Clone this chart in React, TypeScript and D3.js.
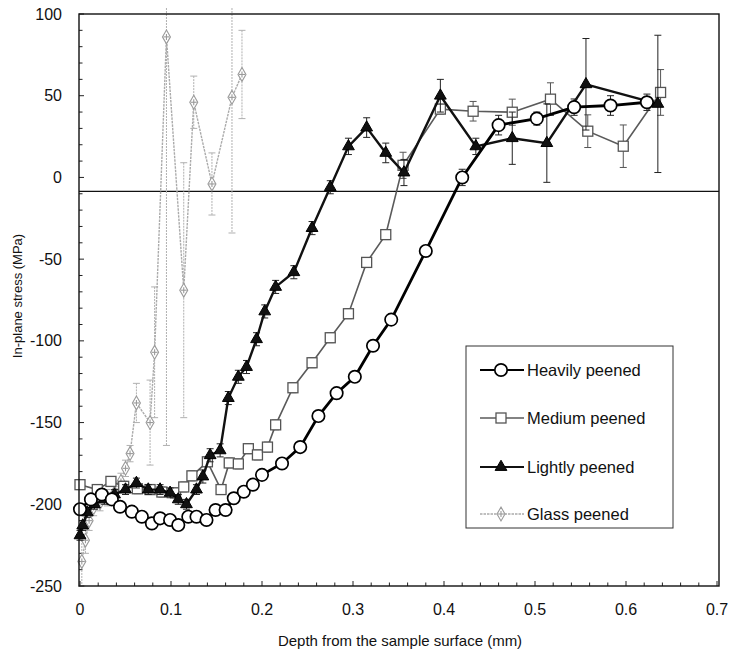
import React from 'react';
import * as d3 from 'd3';

// ---------- data ----------
const heavilyDepth = [0, 0.012, 0.024, 0.035, 0.044, 0.057, 0.068, 0.079, 0.088, 0.099, 0.108, 0.119, 0.128, 0.139, 0.149, 0.160, 0.169, 0.180, 0.190, 0.200, 0.222, 0.242, 0.262, 0.282, 0.302, 0.322, 0.342, 0.380, 0.420, 0.460, 0.502, 0.543, 0.583, 0.623];
const heavilyStress = [-203, -197, -194, -197, -201.5, -204.5, -207.6, -211.7, -208.6, -209.6, -212.7, -207.6, -207.6, -209.6, -203.5, -203.5, -196.3, -192.3, -188, -182, -175, -165, -146, -132, -122, -103, -87, -45, 0, 32, 36, 43, 44, 46];
const heavilyErr = [2, 2, 2, 2, 2, 2, 2, 2, 2, 2, 2, 2, 2, 2, 2, 2, 2, 2, 2, 2, 2, 2, 2, 2, 2, 2, 3, 3, 5, 6, 4, 5, 6, 5];

const mediumDepth = [0, 0.019, 0.034, 0.048, 0.063, 0.077, 0.090, 0.105, 0.114, 0.123, 0.140, 0.155, 0.164, 0.174, 0.185, 0.195, 0.206, 0.215, 0.234, 0.255, 0.275, 0.295, 0.315, 0.336, 0.355, 0.396, 0.432, 0.475, 0.517, 0.558, 0.597, 0.638];
const mediumStress = [-188, -191, -186, -189, -190.5, -191, -192.5, -193, -189.4, -182.6, -174, -191, -174.7, -175.3, -166, -169.8, -165, -151.4, -128.7, -113.4, -98.1, -83.4, -52, -35, 7.4, 41.8, 40.5, 39.9, 47.9, 28.3, 19.1, 52];
const mediumErr = [3, 3, 3, 3, 3, 3, 3, 3, 3, 3, 3, 3, 3, 3, 3, 3, 3, 3, 3, 3, 3, 3, 3, 3, 8, 3, 6, 8, 10, 10, 13, 14];

const lightlyDepth = [0, 0.003, 0.008, 0.016, 0.027, 0.038, 0.050, 0.062, 0.075, 0.088, 0.099, 0.108, 0.117, 0.128, 0.135, 0.143, 0.154, 0.163, 0.174, 0.183, 0.194, 0.203, 0.215, 0.235, 0.255, 0.275, 0.295, 0.315, 0.336, 0.356, 0.396, 0.435, 0.475, 0.513, 0.556, 0.635];
const lightlyStress = [-219, -213, -205, -200, -197, -194, -191, -187, -191, -191, -193, -197, -200, -191, -183, -170, -167, -135, -122, -116, -99, -82, -67, -58, -31, -6, 19, 30.5, 15, 3, 50, 19, 24, 21, 57, 45];
const lightlyErr = [3, 3, 3, 3, 3, 3, 3, 3, 3, 3, 3, 3, 3, 3, 4, 4, 4, 4, 4, 4, 4, 4, 4, 4, 4, 4, 5, 6, 6, 8, 10, 5, 16, 24, 28, 42];

const glassDepth = [0.002, 0.006, 0.010, 0.015, 0.022, 0.030, 0.038, 0.045, 0.050, 0.055, 0.062, 0.077, 0.082, 0.095, 0.114, 0.125, 0.145, 0.167, 0.178];
const glassStress = [-235, -222, -210, -202, -199, -196, -193, -186, -178, -169, -138, -150, -107, 86, -69, 46, -4, 49, 63];
const glassErr = [15, 8, 6, 5, 5, 5, 5, 5, 5, 5, 12, 26, 40, 250, 78, 16, 19, 83, 27];

const xTicks = [0, 0.1, 0.2, 0.3, 0.4, 0.5, 0.6, 0.7];
const yTicks = [100, 50, 0, -50, -100, -150, -200, -250];
const referenceLine = -8.5;

const seriesNames = ['Heavily peened', 'Medium peened', 'Lightly peened', 'Glass peened'];

// ---------- layout ----------
const W = 736;
const H = 655;
const left = 79;
const right = 719;
const top = 14;
const bottom = 586;
const FONT = '"Liberation Sans", Arial, Helvetica, sans-serif';

const x = d3.scaleLinear().domain([0, 0.7]).range([80, 717]);
const y = d3.scaleLinear().domain([-250, 100]).range([bottom, top]);

type Pt = { d: number; s: number; e: number };
const zip = (d: number[], s: number[], e: number[]): Pt[] => d.map((v, i) => ({ d: v, s: s[i], e: e[i] }));

const heavily = zip(heavilyDepth, heavilyStress, heavilyErr);
const medium = zip(mediumDepth, mediumStress, mediumErr);
const lightly = zip(lightlyDepth, lightlyStress, lightlyErr);
const glass = zip(glassDepth, glassStress, glassErr);

const lineGen = d3.line<Pt>().x(p => x(p.d)).y(p => y(p.s));

const triPath = d3.symbol().type(d3.symbolTriangle).size(60)() as string;
const diaPath = d3.symbol().type(d3.symbolDiamond).size(55)() as string;

function ErrorBars({ data, color, width, dash }: { data: Pt[]; color: string; width: number; dash?: string }) {
  const cap = 3.5;
  return (
    <g stroke={color} strokeWidth={width} fill="none">
      {data.map((p, i) => {
        const cx = x(p.d);
        const yt = y(p.s + p.e);
        const yb = y(p.s - p.e);
        const ytc = Math.max(yt, 8);
        const ybc = Math.min(yb, bottom);
        return (
          <g key={i}>
            <line x1={cx} x2={cx} y1={ytc} y2={ybc} strokeDasharray={dash} />
            {yt >= 8 && <line x1={cx - cap} x2={cx + cap} y1={yt} y2={yt} />}
            {yb <= bottom && <line x1={cx - cap} x2={cx + cap} y1={yb} y2={yb} />}
          </g>
        );
      })}
    </g>
  );
}

function CircleMark({ cx, cy }: { cx: number; cy: number }) {
  return <circle cx={cx} cy={cy} r={6.2} fill="#fff" stroke="#000" strokeWidth={1.7} />;
}
function SquareMark({ cx, cy }: { cx: number; cy: number }) {
  return <rect x={cx - 5} y={cy - 5} width={10} height={10} fill="#fff" stroke="#555" strokeWidth={1.3} />;
}
function TriMark({ cx, cy }: { cx: number; cy: number }) {
  return <path d={triPath} transform={`translate(${cx},${cy})`} fill="#111" stroke="#000" strokeWidth={1} />;
}
function DiaMark({ cx, cy }: { cx: number; cy: number }) {
  return (
    <g transform={`translate(${cx},${cy})`} stroke="#9a9a9a" strokeWidth={1.1} fill="#fff">
      <path d={diaPath} />
      <line x1={-3} x2={3} y1={0} y2={0} />
      <line x1={0} x2={0} y1={-3} y2={3} />
    </g>
  );
}

export default function App() {
  const yMinor = d3.range(-250, 101, 10);
  const xMinor = d3.range(0, 0.7001, 0.02);

  const legendX = 466;
  const legendY = 346;
  const legendEntries = [370, 418, 467, 514];

  return (
    <div style={{ position: 'absolute', left: 0, top: 0, width: W, height: H, background: '#fff' }}>
      <svg width={W} height={H} style={{ display: 'block', fontFamily: FONT }}>
        <rect x={0} y={0} width={W} height={H} fill="#fff" />

        {/* ticks */}
        <g stroke="#222" strokeWidth={1}>
          {yMinor.map(v => {
            const major = Math.abs(v % 50) < 1e-6;
            return <line key={'y' + v} x1={left} x2={left + (major ? 5 : 3.5)} y1={y(v)} y2={y(v)} />;
          })}
          {xMinor.map((v, i) => {
            const major = i % 5 === 0;
            return <line key={'x' + i} x1={x(v)} x2={x(v)} y1={bottom} y2={bottom - (major ? 5 : 3.5)} />;
          })}
        </g>

        {/* reference line */}
        <line x1={left} x2={right} y1={y(referenceLine)} y2={y(referenceLine)} stroke="#111" strokeWidth={1.3} />

        {/* glass peened */}
        <ErrorBars data={glass} color="#b0b0b0" width={1} dash="2,1" />
        <path d={lineGen(glass) as string} fill="none" stroke="#ababab" strokeWidth={1.4} strokeDasharray="2.5,1" />
        {glass.map((p, i) => <DiaMark key={i} cx={x(p.d)} cy={y(p.s)} />)}

        {/* medium peened */}
        <ErrorBars data={medium} color="#555" width={1} />
        <path d={lineGen(medium) as string} fill="none" stroke="#5a5a5a" strokeWidth={1.6} />
        {medium.map((p, i) => <SquareMark key={i} cx={x(p.d)} cy={y(p.s)} />)}

        {/* lightly peened */}
        <ErrorBars data={lightly} color="#222" width={1} />
        <path d={lineGen(lightly) as string} fill="none" stroke="#111" strokeWidth={2.4} />
        {lightly.map((p, i) => <TriMark key={i} cx={x(p.d)} cy={y(p.s)} />)}

        {/* heavily peened */}
        <ErrorBars data={heavily} color="#222" width={1} />
        <path d={lineGen(heavily) as string} fill="none" stroke="#000" strokeWidth={2.8} />
        {heavily.map((p, i) => <CircleMark key={i} cx={x(p.d)} cy={y(p.s)} />)}

        {/* frame */}
        <rect x={left} y={top} width={right - left} height={bottom - top} fill="none" stroke="#111" strokeWidth={1.4} />

        {/* tick labels */}
        <g fontSize={16} fill="#111">
          {yTicks.map(v => (
            <text key={'yl' + v} x={62} y={y(v)} textAnchor="end" dominantBaseline="central">{v}</text>
          ))}
          {xTicks.map(v => (
            <text key={'xl' + v} x={x(v)} y={609} textAnchor="middle" dominantBaseline="central">{String(v)}</text>
          ))}
        </g>

        {/* axis titles */}
        <text x={400} y={640} textAnchor="middle" dominantBaseline="central" fontSize={15} fill="#111">Depth from the sample surface (mm)</text>
        <text transform={`translate(17,296) rotate(-90)`} textAnchor="middle" dominantBaseline="central" fontSize={13} fill="#111">In-plane stress (MPa)</text>

        {/* legend */}
        <rect x={legendX} y={legendY} width={207} height={182} fill="#fff" stroke="#333" strokeWidth={1} />
        {legendEntries.map((ly, i) => {
          const strokes = ['#000', '#5a5a5a', '#111', '#ababab'];
          const widths = [2.2, 1.5, 2.2, 1.3];
          return (
            <g key={'lg' + i}>
              <line x1={480} x2={524} y1={ly} y2={ly} stroke={strokes[i]} strokeWidth={widths[i]} strokeDasharray={i === 3 ? '2.5,1' : undefined} />
              {i === 0 && <CircleMark cx={501} cy={ly} />}
              {i === 1 && <SquareMark cx={501} cy={ly} />}
              {i === 2 && <TriMark cx={501} cy={ly} />}
              {i === 3 && <DiaMark cx={501} cy={ly} />}
              <text x={527} y={ly} dominantBaseline="central" fontSize={16.5} fill="#111">{seriesNames[i]}</text>
            </g>
          );
        })}
      </svg>
    </div>
  );
}
